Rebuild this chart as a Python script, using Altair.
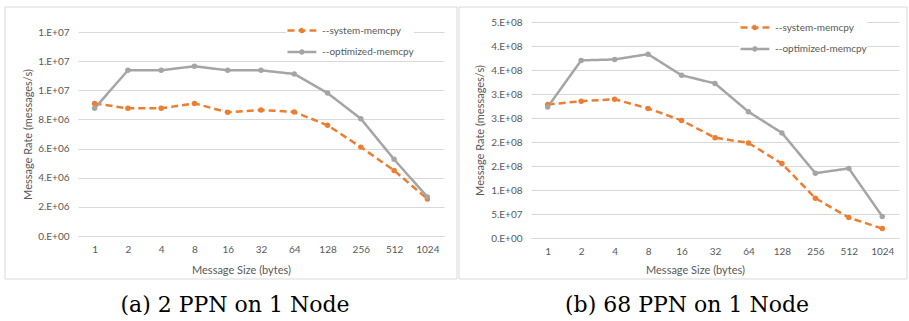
import altair as alt
import pandas as pd

# ---------------- data ----------------
sizes = ["1", "2", "4", "8", "16", "32", "64", "128", "256", "512", "1024"]
series_names = ["--system-memcpy", "--optimized-memcpy"]

a_system = [9.10e6, 8.76e6, 8.76e6, 9.10e6, 8.49e6, 8.65e6, 8.51e6, 7.60e6, 6.10e6, 4.50e6, 2.54e6]
a_optimized = [8.76e6, 11.37e6, 11.37e6, 11.65e6, 11.37e6, 11.37e6, 11.12e6, 9.81e6, 8.05e6, 5.26e6, 2.68e6]

b_system = [2.78e8, 2.85e8, 2.89e8, 2.70e8, 2.45e8, 2.09e8, 1.98e8, 1.55e8, 8.3e7, 4.25e7, 1.96e7]
b_optimized = [2.73e8, 3.70e8, 3.72e8, 3.83e8, 3.39e8, 3.22e8, 2.63e8, 2.19e8, 1.35e8, 1.45e8, 4.5e7]

a_ticks = [0, 2e6, 4e6, 6e6, 8e6, 1.0e7, 1.2e7, 1.4e7]
b_ticks = [0, 5e7, 1.0e8, 1.5e8, 2.0e8, 2.5e8, 3.0e8, 3.5e8, 4.0e8, 4.5e8]

captions = ["(a) 2 PPN on 1 Node", "(b) 68 PPN on 1 Node"]

# ---------------- style ----------------
ORANGE = "#ED7D31"
GRAY = "#A5A5A5"
GRID = "#D9D9D9"
TXT = "#595959"
FONT = "Lato"
SERIF = "DejaVu Serif"

LEG_PATH = "M-1,0L3.8,0M1.65,0A0.25,0.25,0,1,1,1.15,0A0.25,0.25,0,1,1,1.65,0Z"


def panel(sys_vals, opt_vals, ticks, ymax, w, h, frame, leg_xy, ytitle, xtitle, caption):
    df = pd.DataFrame({
        "size": sizes * 2,
        "series": [series_names[0]] * len(sizes) + [series_names[1]] * len(sizes),
        "value": list(sys_vals) + list(opt_vals),
    })
    base = alt.Chart(df)

    x = alt.X(
        "size:N", sort=sizes,
        scale=alt.Scale(type="point", padding=0.5),
        axis=alt.Axis(
            title="Message Size (bytes)", labelAngle=0, ticks=False,
            domain=True, domainColor=GRID, grid=False,
            labelPadding=8, labelFont=FONT, labelFontSize=10, labelColor=TXT,
            titleFont=FONT, titleFontSize=11, titleColor=TXT, titleFontWeight="normal",
            titleX=xtitle[0], titleY=xtitle[1], titleAlign="center", titleBaseline="middle",
        ),
    )
    y = alt.Y(
        "value:Q",
        scale=alt.Scale(domain=[0, ymax], nice=False, zero=True),
        axis=alt.Axis(
            title="Message Rate (messages/s)", values=ticks,
            labelExpr="replace(format(datum.value, '.0e'), 'e+', '.E+0')",
            domain=False, ticks=False, grid=True, gridColor=GRID, gridWidth=1,
            labelPadding=9, labelFont=FONT, labelFontSize=10, labelColor=TXT,
            titleFont=FONT, titleFontSize=11, titleColor=TXT, titleFontWeight="normal",
            titleX=ytitle[0], titleY=ytitle[1], titleAngle=270, titleAlign="center",
            titleBaseline="middle",
        ),
    )

    legend = alt.Legend(
        title=None, orient="none", legendX=leg_xy[0], legendY=leg_xy[1],
        symbolType=LEG_PATH, symbolSize=144, symbolStrokeWidth=2.5,
        labelFont=FONT, labelFontSize=10, labelColor=TXT, labelOffset=21,
        rowPadding=6.5, padding=0, fillColor="white",
    )

    lines = base.mark_line(strokeWidth=2.5).encode(
        x=x, y=y,
        color=alt.Color("series:N", scale=alt.Scale(domain=series_names, range=[ORANGE, GRAY]),
                        legend=legend),
        strokeDash=alt.StrokeDash("series:N",
                                  scale=alt.Scale(domain=series_names, range=[[7, 4], [1, 0]]),
                                  legend=legend),
    )
    pts = base.mark_circle(size=30, opacity=1).encode(
        x=x, y=y,
        fill=alt.Fill("series:N", scale=alt.Scale(domain=series_names, range=[ORANGE, GRAY]),
                      legend=None),
    )
    fr = alt.Chart(pd.DataFrame({"k": [0]})).mark_rect(
        fill="transparent", stroke=GRID, strokeWidth=1
    ).encode(
        x=alt.value(frame[0]), x2=alt.value(frame[1]),
        y=alt.value(frame[2]), y2=alt.value(frame[3]),
    )
    return alt.layer(fr, lines, pts).properties(
        width=w, height=h,
        title=alt.Title(caption, orient="bottom", anchor="middle", frame="bounds",
                        baseline="alphabetic", offset=32, dx=4,
                        font=SERIF, fontSize=22, fontWeight="normal", color="black"),
    )


# left plot spans a little above its top gridline so both panels share the same top
left = panel(a_system, a_optimized, a_ticks, 1.4e7 * 214 / 204, 366, 214,
             (-73, 379, -15, 257), (208, 1), (-50, 112), (163, 34), captions[0])
right = panel(b_system, b_optimized, b_ticks, 4.5e8, 368, 216,
              (-72, 376, -15, 257), (208, -2), (-51, 108), (164, 32), captions[1])

chart = alt.hconcat(left, right, spacing=0).resolve_scale(
    color="independent", strokeDash="independent", fill="independent"
).resolve_legend(
    color="independent", strokeDash="independent", fill="independent"
).properties(
    padding={"left": 4, "top": 6, "right": 0, "bottom": 0}
).configure_view(stroke="transparent")

chart.save("out.html", embed_options={"renderer": "svg", "actions": False})
